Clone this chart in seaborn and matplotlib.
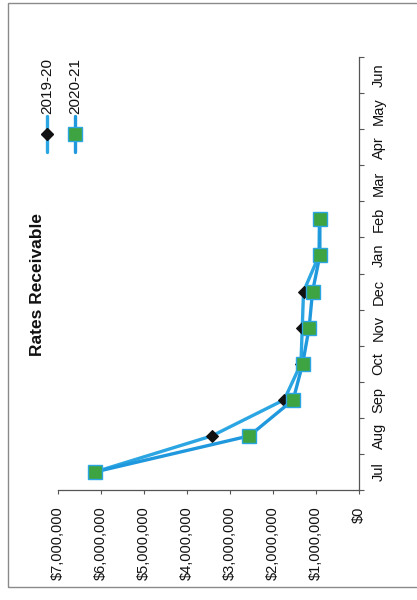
import matplotlib
matplotlib.use("Agg")
import matplotlib.pyplot as plt
from matplotlib.lines import Line2D
from matplotlib.patches import Rectangle
from matplotlib.ticker import FixedLocator, FuncFormatter
import seaborn as sns
import pandas as pd

# Monthly rates receivable balances (financial year Jul-Jun)
months = ["Jul", "Aug", "Sep", "Oct", "Nov", "Dec", "Jan", "Feb", "Mar", "Apr", "May", "Jun"]
seasons = ["2019-20", "2020-21"]
rates_2019_20 = [6140000, 3420000, 1740000, 1350000, 1320000, 1290000, 930000, 920000]
rates_2020_21 = [6140000, 2550000, 1530000, 1310000, 1160000, 1080000, 910000, 910000]
value_ticks = [0, 1000000, 2000000, 3000000, 4000000, 5000000, 6000000, 7000000]
title = "Rates Receivable"

frames = []
for season, vals in zip(seasons, [rates_2019_20, rates_2020_21]):
    frames.append(pd.DataFrame({"season": season,
                                "month": months[:len(vals)],
                                "pos": range(len(vals)),
                                "value": vals}))
df = pd.concat(frames, ignore_index=True)

sns.set_theme(style="white")
plt.rcParams["font.family"] = ["Liberation Sans", "DejaVu Sans"]

W, H = 417, 600
fig = plt.figure(figsize=(W / 100, H / 100), dpi=100)
fig.patch.set_facecolor("white")


def fx(px):
    return px / W


def fy(py):
    return 1 - py / H


# page-style chart border
fig.add_artist(Rectangle((fx(8), fy(587)), 1.2, fy(3) - fy(587),
                         transform=fig.transFigure, fill=False,
                         edgecolor="#8a8a8a", lw=1.0))

ax = fig.add_axes([fx(58), fy(490), fx(359) - fx(58), fy(57) - fy(490)])
ax.set_facecolor("white")

styles = {
    "2019-20": dict(color="#2BA6E2", marker="D", markersize=6,
                    markerfacecolor="#111111", markeredgecolor="#111111"),
    "2020-21": dict(color="#1F98DD", marker="s", markersize=10,
                    markerfacecolor="#3EA341", markeredgecolor="#2BA6E2",
                    markeredgewidth=1.0),
}

for season in seasons:
    sub = df[df["season"] == season]
    sns.lineplot(data=sub, x="value", y="pos", orient="y", sort=False,
                 ax=ax, lw=2.4, **styles[season])

ax.set_xlim(7000000, 0)
ax.set_ylim(-0.5, len(months) - 0.5)
ax.set_xlabel("")
ax.set_ylabel("")

# value axis (drawn along the bottom)
ax.xaxis.set_major_locator(FixedLocator(value_ticks))
ax.xaxis.set_major_formatter(FuncFormatter(lambda v, p: f"${v:,.0f}"))
ax.tick_params(axis="x", direction="out", length=3, width=0.8,
               color="#555555", pad=9, labelsize=10.5, labelcolor="#111111",
               labelrotation=90, bottom=True)

# month axis (drawn along the right side)
ax.yaxis.tick_right()
ax.set_yticks(range(len(months)))
ax.set_yticklabels(months)
ax.set_yticks([i - 0.5 for i in range(len(months) + 1)], minor=True)
ax.tick_params(axis="y", which="major", length=0, pad=9, labelsize=10.5,
               labelcolor="#111111", labelrotation=90)
ax.tick_params(axis="y", which="minor", direction="out", length=3.5,
               width=0.8, color="#555555", right=True, left=False)
for lab in ax.get_yticklabels():
    lab.set_verticalalignment("center")
    lab.set_horizontalalignment("left")

for side in ["top", "left"]:
    ax.spines[side].set_visible(False)
for side in ["bottom", "right"]:
    ax.spines[side].set_color("#555555")
    ax.spines[side].set_linewidth(0.9)

# title
fig.text(fx(38), fy(284), title, rotation=90, ha="center", va="center",
         fontsize=12.5, fontweight="bold", color="#111111")

# legend, laid out along the left edge
for season, xpx in zip(seasons, [47, 75]):
    st = styles[season]
    fig.add_artist(Line2D([fx(xpx), fx(xpx)], [fy(152), fy(116)],
                          transform=fig.transFigure, lw=2.4, color=st["color"],
                          marker=None))
    fig.add_artist(Line2D([fx(xpx)], [fy(134)], transform=fig.transFigure,
                          lw=0, marker=st["marker"], markersize=st["markersize"],
                          markerfacecolor=st["markerfacecolor"],
                          markeredgecolor=st["markeredgecolor"]))
    fig.text(fx(xpx), fy(114), season, rotation=90, ha="center", va="bottom",
             fontsize=11, color="#111111")

fig.savefig("out.png", dpi=100, facecolor="white")
